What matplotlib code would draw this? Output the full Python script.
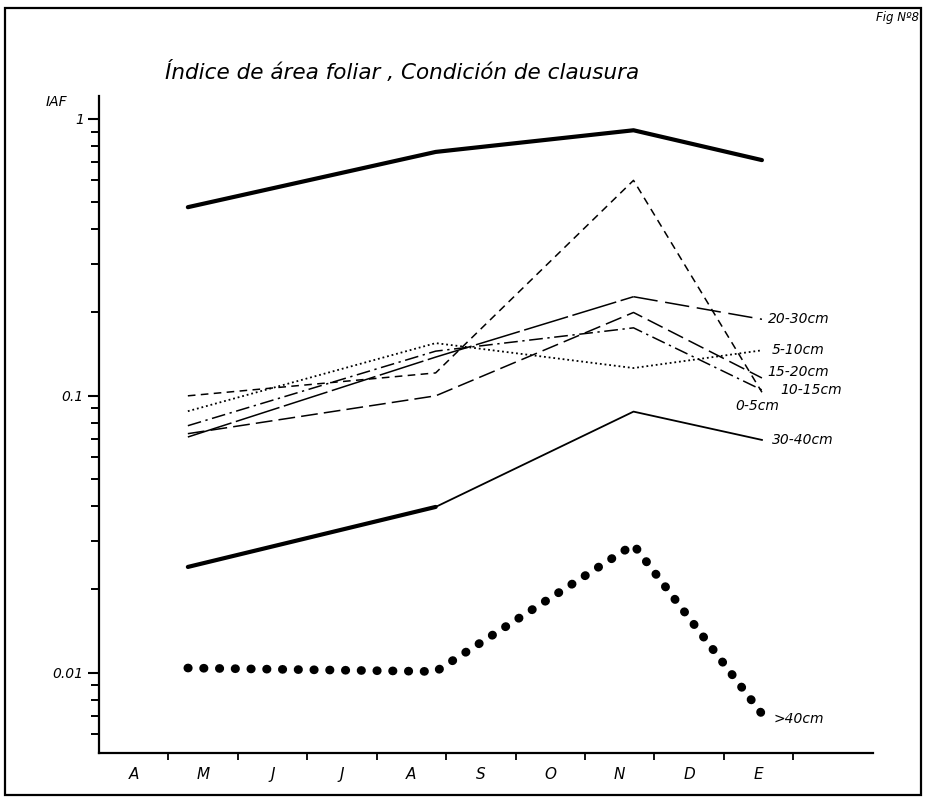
import matplotlib
matplotlib.use("Agg")
import matplotlib.pyplot as plt
from matplotlib.patches import Rectangle
from matplotlib.ticker import LogLocator, NullFormatter, FixedLocator, FixedFormatter

# ---------------- data ----------------
month_labels = ["A", "M", "J", "J", "A", "S", "O", "N", "D", "E"]
sample_months = [1.28, 4.85, 7.70, 9.55]   # sampling dates, in months from start of April

total_iaf = [0.48, 0.76, 0.91, 0.71]
iaf_0_5 = [0.100, 0.121, 0.60, 0.103]
iaf_5_10 = [0.088, 0.155, 0.126, 0.146]
iaf_10_15 = [0.078, 0.145, 0.176, 0.105]
iaf_15_20 = [0.073, 0.100, 0.200, 0.116]
iaf_20_30 = [0.071, 0.138, 0.228, 0.189]
iaf_30_40 = [0.0241, 0.0397, 0.0877, 0.0693]
iaf_gt40 = [0.0104, 0.0101, 0.029, 0.0071]

series_labels = ["0-5cm", "5-10cm", "10-15cm", "15-20cm", "20-30cm", "30-40cm", ">40cm"]

# ---------------- figure ----------------
W, H = 937, 809
fig = plt.figure(figsize=(W / 100, H / 100), dpi=100)
fig.patch.set_facecolor("white")

# outer hand-drawn frame
fig.patches.append(Rectangle((5 / W, 1 - 795 / H), 916 / W, 787 / H,
                             transform=fig.transFigure, fill=False,
                             edgecolor="black", linewidth=1.6))

ax = fig.add_axes([99 / W, 56 / H, 774 / W, 657 / H])
ax.set_yscale("log")
ax.set_ylim(0.00513, 1.21)
ax.set_xlim(0, 11.15)

for s in ["top", "right"]:
    ax.spines[s].set_visible(False)
for s in ["left", "bottom"]:
    ax.spines[s].set_linewidth(1.6)
    ax.spines[s].set_color("black")

ital = dict(style="italic", family="DejaVu Sans", color="black")

# y ticks
ax.yaxis.set_major_locator(FixedLocator([0.01, 0.1, 1]))
ax.yaxis.set_major_formatter(FixedFormatter(["0.01", "0.1", "1"]))
ax.yaxis.set_minor_locator(LogLocator(base=10, subs=range(2, 10)))
ax.yaxis.set_minor_formatter(NullFormatter())
ax.tick_params(axis="y", which="major", direction="out", length=8, width=1.5, pad=3, labelsize=10)
ax.tick_params(axis="y", which="minor", direction="out", length=6, width=1.4)
for t in ax.get_yticklabels():
    t.set_fontstyle("italic")

# x ticks: boundaries as ticks, month letters centred between them
ax.xaxis.set_major_locator(FixedLocator(list(range(1, 11))))
ax.xaxis.set_major_formatter(NullFormatter())
ax.xaxis.set_minor_locator(FixedLocator([i + 0.5 for i in range(len(month_labels))]))
ax.xaxis.set_minor_formatter(FixedFormatter(month_labels))
ax.tick_params(axis="x", which="major", direction="out", length=5, width=1.3)
ax.tick_params(axis="x", which="minor", length=0, pad=10, labelsize=11)
for t in ax.xaxis.get_minorticklabels():
    t.set_fontstyle("italic")

# ---------------- lines ----------------
ax.plot(sample_months, total_iaf, color="black", lw=3.0, solid_capstyle="round")

ax.plot(sample_months, iaf_0_5, color="black", lw=1.1, dashes=(5, 3.5))
ax.plot(sample_months, iaf_5_10, color="black", lw=1.3, dashes=(1, 1.6))
ax.plot(sample_months, iaf_10_15, color="black", lw=1.1, dashes=(9, 3, 1.5, 3))
ax.plot(sample_months, iaf_15_20, color="black", lw=1.1, dashes=(11, 4))
ax.plot(sample_months[:3], iaf_20_30[:3], color="black", lw=1.1, dashes=(30, 3))
ax.plot(sample_months[2:], iaf_20_30[2:], color="black", lw=1.1, dashes=(16, 5))

ax.plot(sample_months, iaf_30_40, color="black", lw=1.3)
ax.plot(sample_months[:2], iaf_30_40[:2], color="black", lw=3.0, solid_capstyle="round")

ax.plot(sample_months, iaf_gt40, color="black", lw=6.3, dashes=(0.05, 1.75),
        dash_capstyle="round")

# ---------------- end labels ----------------
ends = [iaf_0_5[-1], iaf_5_10[-1], iaf_10_15[-1], iaf_15_20[-1],
        iaf_20_30[-1], iaf_30_40[-1], iaf_gt40[-1]]
offsets = [(-27, -14), (10, 0), (18, 0), (5, 6), (6, 0), (10, 0), (12, -5)]
for lab, yv, off in zip(series_labels, ends, offsets):
    ax.annotate(lab, xy=(sample_months[-1], yv), xytext=off,
                textcoords="offset pixels", ha="left", va="center",
                fontsize=10, **ital)

# ---------------- texts ----------------
fig.text(165 / W, 1 - 72 / H, "Índice de área foliar , Condición de clausura",
         fontsize=15.5, ha="left", va="center", **ital)
fig.text(46 / W, 1 - 102 / H, "IAF", fontsize=10, ha="left", va="center", **ital)
fig.text(919 / W, 1 - 18 / H, "Fig Nº8", fontsize=8.5, ha="right", va="center", **ital)

fig.savefig("out.png", dpi=100, facecolor="white")
